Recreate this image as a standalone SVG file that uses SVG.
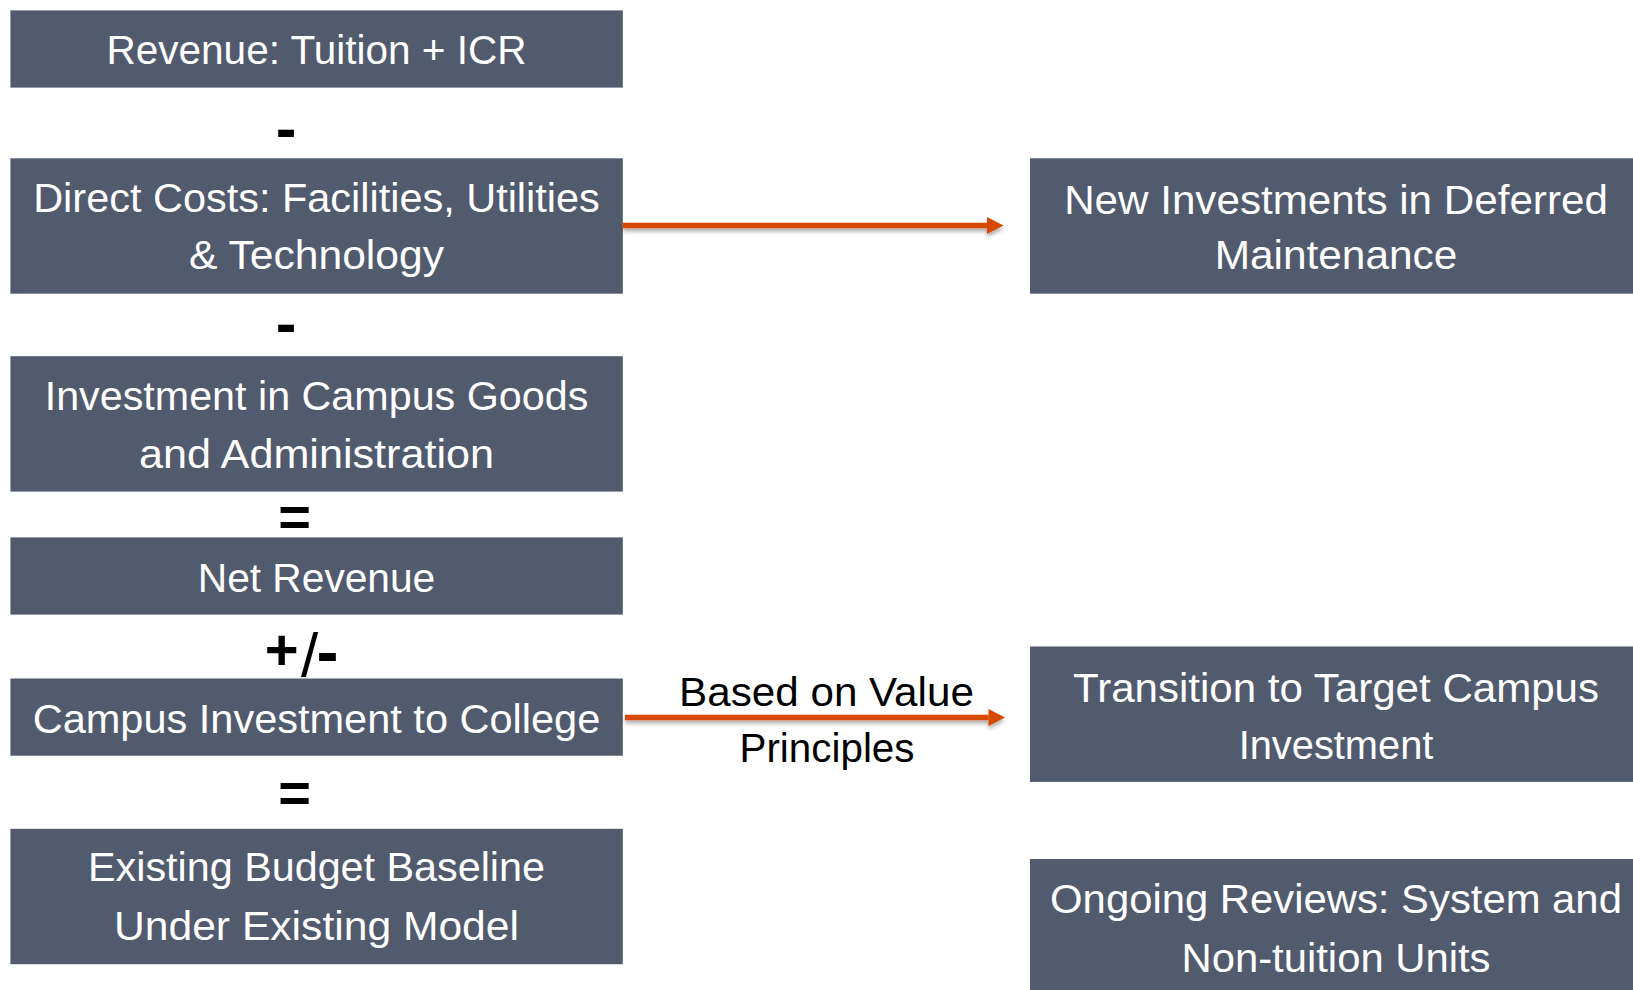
<svg xmlns="http://www.w3.org/2000/svg" width="1633" height="990" viewBox="0 0 1633 990">
  <style>
    .box { fill: #525a6e; }
    .lbl { font-family: "Liberation Sans", Arial, sans-serif; font-size: 40px; fill: #ffffff; text-anchor: middle; }
    .note { font-family: "Liberation Sans", Arial, sans-serif; font-size: 40px; fill: #000000; text-anchor: middle; }
    .op { font-family: "Liberation Sans", Arial, sans-serif; font-weight: bold; fill: #000000; text-anchor: middle; }
    .wire { stroke: #d64a05; stroke-width: 5.5; fill: none; marker-end: url(#head); }
  </style>
  <defs>
    <marker id="head" markerUnits="userSpaceOnUse" markerWidth="17" markerHeight="18" refX="0" refY="8.5" orient="auto" overflow="visible">
      <path d="M0,0 L16.5,8.5 L0,17 Z" fill="#d64a05"/>
    </marker>
    <filter id="shade" x="-5%" y="-100%" width="110%" height="300%">
      <feDropShadow dx="0" dy="3" stdDeviation="2" flood-color="#000000" flood-opacity="0.35"/>
    </filter>
  </defs>

  <rect width="1633" height="990" fill="#ffffff"/>

  <!-- left column: the budget equation -->
  <g id="revenue">
    <rect class="box" x="10.4" y="10.4" width="612.4" height="77.2"/>
    <text class="lbl" x="316.5" y="64.3" textLength="420" lengthAdjust="spacingAndGlyphs">Revenue: Tuition + ICR</text>
  </g>
  <g id="op-minus-1">
    <text class="op" x="286" y="148.6" font-size="62">-</text>
  </g>
  <g id="direct-costs">
    <rect class="box" x="10.4" y="158.3" width="612.4" height="135.4"/>
    <text class="lbl" x="316.5" y="211.7" textLength="566.6" lengthAdjust="spacingAndGlyphs">Direct Costs: Facilities, Utilities</text>
    <text class="lbl" x="316.5" y="269.3" textLength="255" lengthAdjust="spacingAndGlyphs">&amp; Technology</text>
  </g>
  <g id="op-minus-2">
    <text class="op" x="286" y="343.6" font-size="62">-</text>
  </g>
  <g id="campus-goods">
    <rect class="box" x="10.4" y="356.2" width="612.4" height="135.4"/>
    <text class="lbl" x="316.5" y="410" textLength="543.6" lengthAdjust="spacingAndGlyphs">Investment in Campus Goods</text>
    <text class="lbl" x="316.5" y="468.3" textLength="355" lengthAdjust="spacingAndGlyphs">and Administration</text>
  </g>
  <g id="op-equals-1">
    <text class="op" x="294.7" y="536" font-size="56">=</text>
  </g>
  <g id="net-revenue">
    <rect class="box" x="10.4" y="537.4" width="612.4" height="77.2"/>
    <text class="lbl" x="316.5" y="591.7" textLength="237.5" lengthAdjust="spacingAndGlyphs">Net Revenue</text>
  </g>
  <g id="op-plus-minus">
    <text class="op"><tspan x="281.7" y="669.5" font-size="58">+</tspan><tspan x="309.5" y="676" font-size="62" font-weight="normal">/</tspan><tspan x="327.5" y="674" font-size="66">-</tspan></text>
  </g>
  <g id="campus-investment">
    <rect class="box" x="10.4" y="678.5" width="612.4" height="77.2"/>
    <text class="lbl" x="316.5" y="733.3" textLength="567.6" lengthAdjust="spacingAndGlyphs">Campus Investment to College</text>
  </g>
  <g id="op-equals-2">
    <text class="op" x="294.7" y="811.6" font-size="56">=</text>
  </g>
  <g id="baseline">
    <rect class="box" x="10.4" y="828.8" width="612.4" height="135.4"/>
    <text class="lbl" x="316.5" y="880.7" textLength="457" lengthAdjust="spacingAndGlyphs">Existing Budget Baseline</text>
    <text class="lbl" x="316.5" y="940" textLength="405" lengthAdjust="spacingAndGlyphs">Under Existing Model</text>
  </g>

  <!-- right column: outcomes -->
  <g id="deferred-maintenance">
    <rect class="box" x="1030" y="158.3" width="612.4" height="135.4"/>
    <text class="lbl" x="1336" y="214" textLength="543.7" lengthAdjust="spacingAndGlyphs">New Investments in Deferred</text>
    <text class="lbl" x="1336" y="269.3" textLength="242.7" lengthAdjust="spacingAndGlyphs">Maintenance</text>
  </g>
  <g id="target-investment">
    <rect class="box" x="1030" y="646.5" width="612.4" height="135.4"/>
    <text class="lbl" x="1336" y="701.7" textLength="526" lengthAdjust="spacingAndGlyphs">Transition to Target Campus</text>
    <text class="lbl" x="1336" y="759.3" textLength="194.7" lengthAdjust="spacingAndGlyphs">Investment</text>
  </g>
  <g id="ongoing-reviews">
    <rect class="box" x="1030" y="859" width="612.4" height="135.4"/>
    <text class="lbl" x="1336" y="913.3" textLength="571.8" lengthAdjust="spacingAndGlyphs">Ongoing Reviews: System and</text>
    <text class="lbl" x="1336" y="971.7" textLength="309" lengthAdjust="spacingAndGlyphs">Non-tuition Units</text>
  </g>

  <!-- connectors -->
  <g id="connectors" filter="url(#shade)">
    <line class="wire" x1="622.8" y1="225.5" x2="987" y2="225.5"/>
    <line class="wire" x1="625" y1="717.5" x2="988.5" y2="717.5"/>
  </g>
  <g id="connector-label">
    <text class="note" x="826.5" y="706" textLength="294.8" lengthAdjust="spacingAndGlyphs">Based on Value</text>
    <text class="note" x="827" y="761.7" textLength="175" lengthAdjust="spacingAndGlyphs">Principles</text>
  </g>
</svg>
